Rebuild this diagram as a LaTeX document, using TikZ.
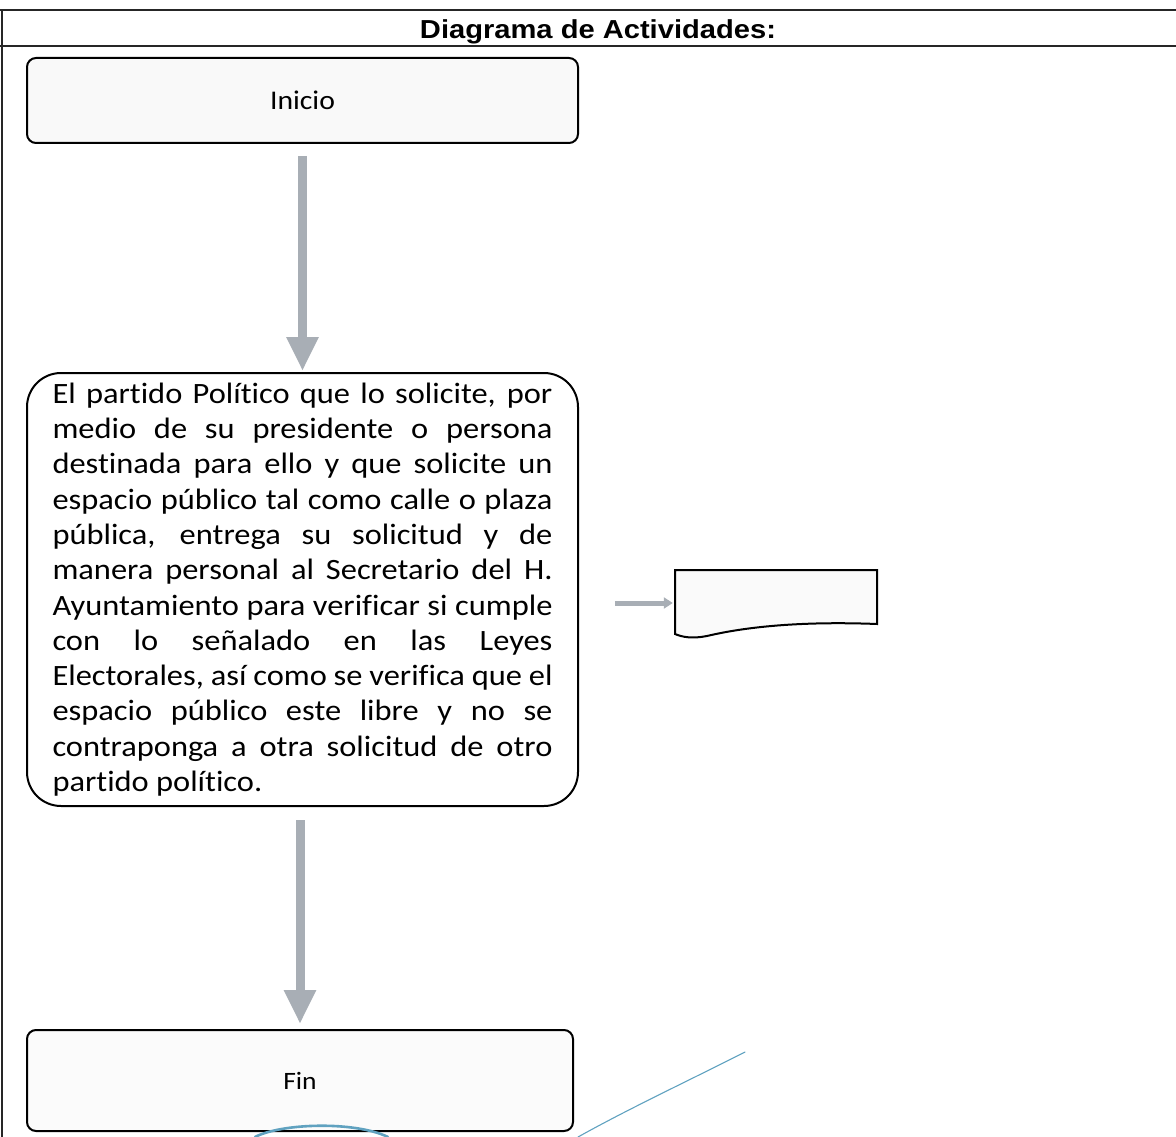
\documentclass[tikz,border=0pt]{standalone}
\usepackage{fontspec}
\setmainfont{Carlito}[FakeStretch=1.1, RawFeature=-liga]
\newfontfamily\headfont{Liberation Sans}[FakeStretch=1.12]
\usetikzlibrary{arrows.meta}

\definecolor{flowgray}{RGB}{168,174,181}
\definecolor{stampblue}{RGB}{96,162,192}

\begin{document}
\begin{tikzpicture}[x=1pt,y=-1pt,
  rule/.style={draw=black!85, line width=1.6pt},
  stepbox/.style={draw=black, line width=2pt, inner sep=0pt, fill=gray!5,
    font=\fontsize{27}{32}\selectfont},
  flow/.style={draw=flowgray, line width=9pt,
    -{Triangle[width=30pt,length=34pt]}},
  smallflow/.style={draw=flowgray, line width=5pt,
    -{Triangle[width=11pt,length=9pt]}},
  stamp/.style={draw=stampblue, line cap=round}]
\useasboundingbox (0,0) rectangle (1176,1137);

% table frame and heading
\draw[rule] (0,10) -- (1176,10);
\draw[rule] (0,46) -- (1176,46);
\draw[rule] (2,10) -- (2,1137);
\node[anchor=base, inner sep=0pt,
  font=\headfont\bfseries\fontsize{26}{30}\selectfont] (title) at (598,39)
  {Diagrama de Actividades:};

% activity steps
\node[stepbox, rounded corners=9pt, minimum width=551pt, minimum height=85pt]
  (inicio) at (302.5,100.5) {Inicio};

\node[stepbox, fill=white, rounded corners=34pt, text width=500pt,
  inner xsep=25.5pt, minimum height=433pt, align=justify,
  font=\fontsize{29.5}{35.3}\selectfont] (tramite) at (302.5,589.5)
  {\tolerance=10000 El partido Político que lo solicite, por\linebreak
   medio de su presidente o persona\linebreak
   destinada para ello y que solicite un\linebreak
   espacio público tal como calle o plaza\linebreak
   pública, entrega su solicitud y de\linebreak
   manera personal al Secretario del H.\linebreak
   Ayuntamiento para verificar si cumple\linebreak
   con lo señalado en las Leyes\linebreak
   Electorales, así como se verifica que el\linebreak
   espacio público este libre y no se\linebreak
   contraponga a otra solicitud de otro\linebreak
   partido político.};

\node[stepbox, fill=gray!3, rounded corners=9pt, minimum width=546pt,
  minimum height=101pt, font=\fontsize{25}{30}\selectfont]
  (fin) at (300,1080.5) {Fin};

% document symbol
\node[inner sep=0pt, minimum width=202pt, minimum height=67pt] (doc) at (776,603) {};
\draw[line width=2pt, fill=gray!4]
  (675,570) -- (877,570) -- (877,624)
  .. controls (800,621) and (745,627) .. (707,636)
  .. controls (692,639) and (682,637) .. (675,634) -- cycle;

% connectors
\draw[flow, shorten <=12pt, shorten >=1pt] (inicio.south) -- (inicio.south |- tramite.north);
\draw[flow, shorten <=13pt, shorten >=5pt] (fin.north |- tramite.south) -- (fin.north);
\draw[smallflow, shorten >=2pt] ([xshift=-60pt]doc.west) -- (doc.west);

% seal strokes at the foot of the page
\draw[stamp, line width=1.1pt] (745,1052) .. controls (690,1080) and (630,1108) .. (578,1137);
\draw[stamp, line width=2.6pt] (255,1137) .. controls (282,1123) and (355,1121) .. (388,1137);
\end{tikzpicture}
\end{document}
